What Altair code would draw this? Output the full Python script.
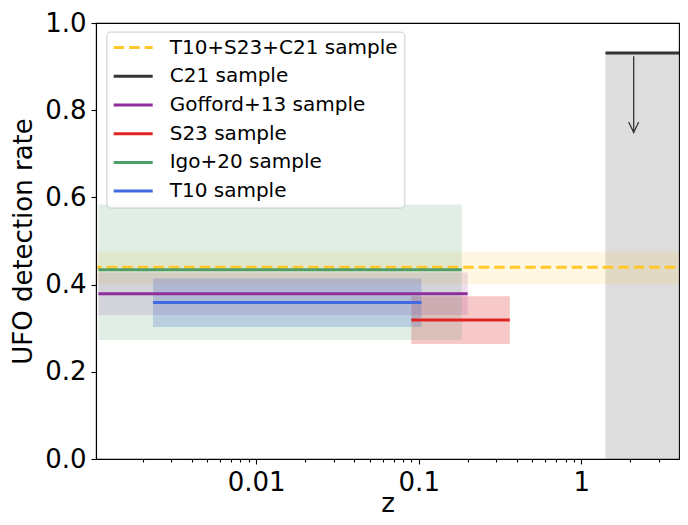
import altair as alt
import pandas as pd

# ---- data ----
samples = ["T10+S23+C21 sample", "C21 sample", "Gofford+13 sample",
           "S23 sample", "Igo+20 sample", "T10 sample"]
rate = [0.440, 0.931, 0.379, 0.319, 0.434, 0.359]
rate_lo = [0.401, 0.0, 0.330, 0.264, 0.273, 0.303]
rate_hi = [0.476, 0.931, 0.428, 0.373, 0.584, 0.414]
z_lo = [0.0005, 1.408, 0.00107, 0.090, 0.00107, 0.00232]
z_hi = [10.0, 10.0, 0.200, 0.363, 0.184, 0.104]

line_colors = ["#FFC828", "#333333", "#912D9A", "#E02424", "#4F9D69", "#4169E1"]
band_colors = ["#FFC828", "#808080", "#912D9A", "#E02424", "#4F9D69", "#4169E1"]
band_alpha = [0.14, 0.27, 0.15, 0.25, 0.17, 0.25]
dashes = [[10.5, 5], [1, 0], [1, 0], [1, 0], [1, 0], [1, 0]]
band_order = [1, 0, 4, 2, 5, 3]

arrow_z = [2.1]
arrow_from = [0.924]
arrow_to = [0.749]

x_domain = [0.001034, 3.99]
x_major = [0.01, 0.1, 1]
x_minor = [0.002, 0.003, 0.004, 0.005, 0.006, 0.007, 0.008, 0.009,
           0.02, 0.03, 0.04, 0.05, 0.06, 0.07, 0.08, 0.09,
           0.2, 0.3, 0.4, 0.5, 0.6, 0.7, 0.8, 0.9, 2, 3]
y_ticks = [0.0, 0.2, 0.4, 0.6, 0.8, 1.0]

df = pd.DataFrame({"sample": samples, "rate": rate, "lo": rate_lo, "hi": rate_hi,
                   "z0": z_lo, "z1": z_hi, "band": band_colors, "alpha": band_alpha,
                   "order": band_order})
arrow_df = pd.DataFrame({"z0": arrow_z, "rate": arrow_from, "lo": arrow_to})

FONT = "DejaVu Sans"
major_test = "datum.value == 0.01 || datum.value == 0.1 || datum.value == 1"

xscale = alt.Scale(type="log", domain=x_domain)
yscale = alt.Scale(domain=[0, 1])

xaxis = alt.Axis(values=sorted(x_major + x_minor), format="~g",
                 labelExpr="(" + major_test + ") ? datum.label : ''",
                 tickSize={"condition": {"test": major_test, "value": 5}, "value": 3},
                 labelOverlap=False, labelFlush=False, labelPadding=5,
                 title="z", titlePadding=-5, zindex=1)
yaxis = alt.Axis(values=y_ticks, format=".1f", tickSize=5, labelPadding=5,
                 title="UFO detection rate", titlePadding=8, zindex=1)


def X(field):
    return alt.X(field, type="quantitative", scale=xscale, axis=xaxis)


def Y(field):
    return alt.Y(field, type="quantitative", scale=yscale, axis=yaxis)


bands = alt.Chart(df).mark_rect(clip=True).encode(
    x=X("z0"), x2="z1", y=Y("lo"), y2="hi",
    fill=alt.Fill("band:N", scale=None),
    opacity=alt.Opacity("alpha:Q", scale=None),
    order=alt.Order("order:Q"),
)

legend = alt.Legend(title=None, orient="none", legendX=10.4, legendY=8.6,
                    padding=6, rowPadding=8.7, symbolSize=289,
                    symbolType="M-2.294,0L2.294,0", symbolStrokeWidth=3,
                    symbolOffset=10.8, labelOffset=26.5, labelFontSize=20,
                    labelFont=FONT, labelLimit=400, labelColor="black",
                    fillColor="rgba(255,255,255,0.8)", strokeColor="#cccccc",
                    cornerRadius=4)

lines = alt.Chart(df).mark_rule(clip=True, strokeWidth=3, strokeCap="butt").encode(
    x=X("z0"), x2="z1", y=Y("rate"),
    color=alt.Color("sample:N", sort=samples,
                    scale=alt.Scale(domain=samples, range=line_colors), legend=legend),
    strokeDash=alt.StrokeDash("sample:N", sort=samples,
                              scale=alt.Scale(domain=samples, range=dashes), legend=legend),
)

shaft = alt.Chart(arrow_df).mark_rule(color="#333333", strokeWidth=1.3).encode(
    x=X("z0"), y=Y("rate"), y2="lo",
)
head = alt.Chart(arrow_df).mark_point(shape="M-1,-2.1L0,0L1,-2.1", size=100,
                                      filled=False, color="#333333",
                                      strokeWidth=1.3, opacity=1).encode(
    x=X("z0"), y=Y("lo"),
)

chart = alt.layer(bands, lines, shaft, head).properties(
    width=583, height=436,
    padding={"left": 88, "top": 15, "right": 1, "bottom": 58},
    autosize=alt.AutoSizeParams(type="none"),
).configure_view(stroke="black", strokeWidth=1.1).configure_axis(
    labelFont=FONT, titleFont=FONT, labelFontSize=26, titleFontSize=26,
    titleFontWeight="normal", labelColor="black", titleColor="black",
    tickColor="black", domainColor="black", tickWidth=1.1, domainWidth=1.1,
    grid=False,
)

chart.save("out.html", embed_options={"renderer": "svg", "actions": False})
